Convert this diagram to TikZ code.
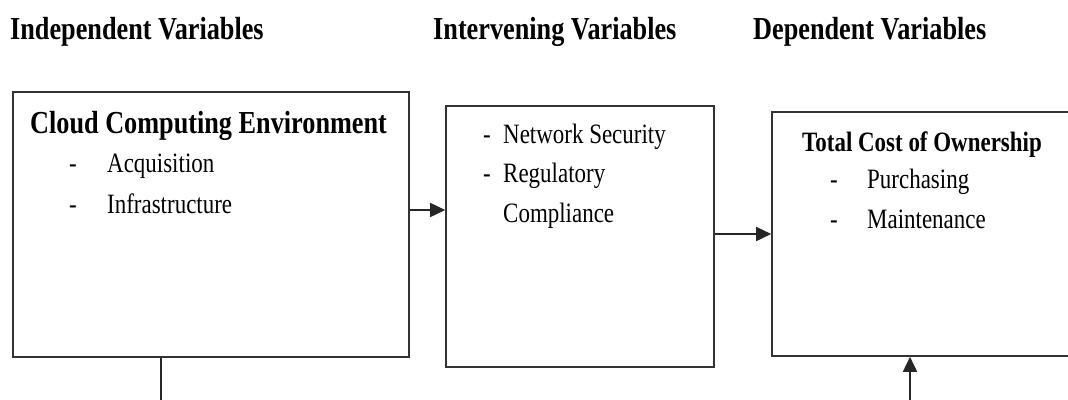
\documentclass[tikz,border=0pt]{standalone}
\usepackage{fontspec}
\setmainfont[FakeStretch=0.82]{Liberation Serif}
\usetikzlibrary{arrows.meta}

\tikzset{
  varbox/.style={draw=black!80, line width=1.6pt, inner sep=0pt},
  head/.style={anchor=base west, inner sep=0pt, font=\fontsize{32}{38}\selectfont\bfseries},
  title/.style={anchor=base west, inner sep=0pt, font=\fontsize{#1}{36}\selectfont\bfseries},
  item/.style={anchor=base west, inner sep=0pt, font=\fontsize{28}{34}\selectfont},
  link/.style={draw=black!85, line width=1.6pt},
  tip/.style={-{Triangle[length=15pt,width=14pt]}}
}

\begin{document}
\begin{tikzpicture}[x=1pt,y=-1pt]
  \useasboundingbox (0,0) rectangle (1068,399);

  % headings
  \node[head] (hind) at (10,39)  {Independent Variables};
  \node[head] (hint) at (433,39) {Intervening Variables};
  \node[head] (hdep) at (753,39) {Dependent Variables};

  % boxes
  \node[varbox, minimum width=396pt, minimum height=265pt] (env) at (211,224.5) {};
  \node[varbox, minimum width=268pt, minimum height=261pt] (sec) at (580,236.5) {};
  \node[varbox, minimum width=320pt, minimum height=244pt] (tco) at (932,234) {};

  % box texts
  \node[title=32] (envt) at (30,133) {Cloud Computing Environment};
  \node[item] (acq) at (69,172) {\makebox[38pt][l]{-}Acquisition};
  \node[item] (inf) at (69,213) {\makebox[38pt][l]{-}Infrastructure};

  \node[item] (net) at (483,143) {\makebox[20pt][l]{-}Network Security};
  \node[item] (reg) at (483,182) {\makebox[20pt][l]{-}Regulatory};
  \node[item] (com) at (503,222) {Compliance};

  \node[title=28] (tcot) at (802,151) {Total Cost of Ownership};
  \node[item] (pur) at (830,188) {\makebox[37pt][l]{-}Purchasing};
  \node[item] (mai) at (830,228) {\makebox[37pt][l]{-}Maintenance};

  % connectors
  \coordinate (down) at (161,402);
  \coordinate (up)   at (910,402);
  \draw[link, tip] (env.east |- 0,210) -- (sec.west |- 0,210);
  \draw[link, tip] (sec.east |- 0,234) -- (tco.west |- 0,234);
  \draw[link] (env.south -| down) -- (down);
  \draw[link, tip] (up) -- (tco.south -| up);
\end{tikzpicture}
\end{document}
